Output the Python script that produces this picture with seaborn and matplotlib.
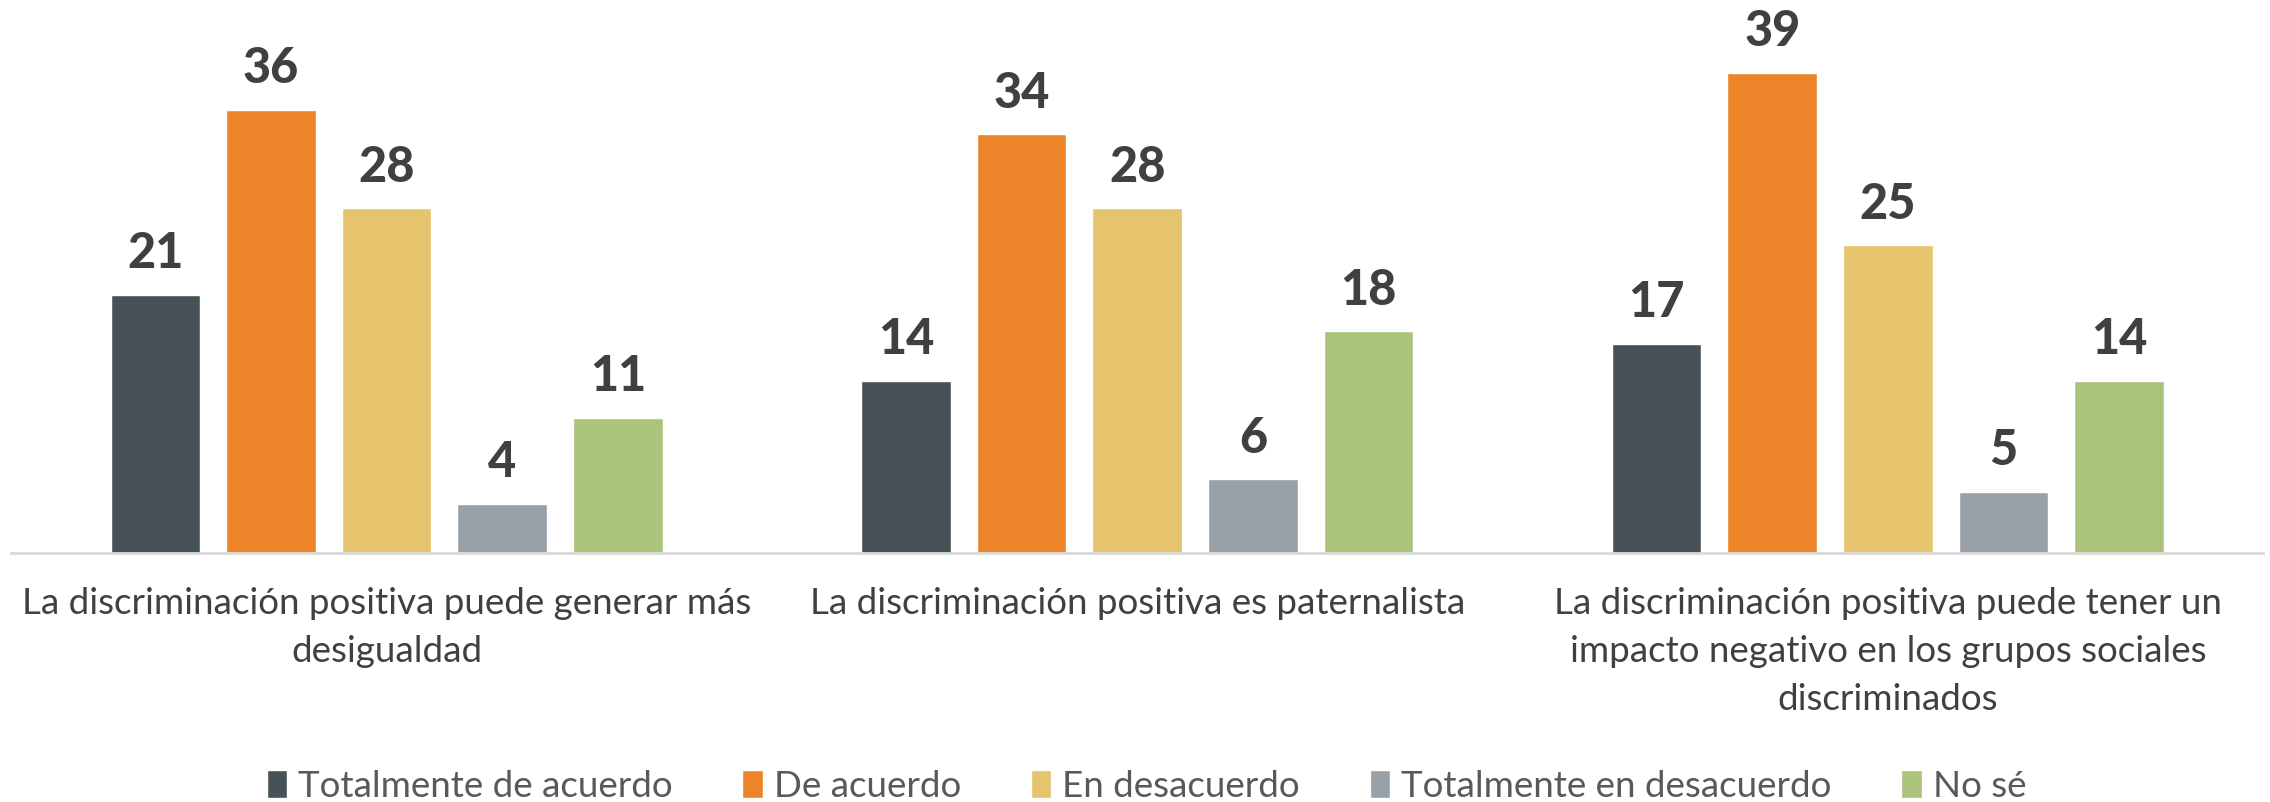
import matplotlib
matplotlib.use("Agg")
import matplotlib.pyplot as plt
import pandas as pd
import seaborn as sns

categories = [
    "La discriminación positiva puede generar más\ndesigualdad",
    "La discriminación positiva es paternalista",
    "La discriminación positiva puede tener un\nimpacto negativo en los grupos sociales\ndiscriminados",
]
responses = [
    "Totalmente de acuerdo",
    "De acuerdo",
    "En desacuerdo",
    "Totalmente en desacuerdo",
    "No sé",
]
totalmente_de_acuerdo = [21, 14, 17]
de_acuerdo = [36, 34, 39]
en_desacuerdo = [28, 28, 25]
totalmente_en_desacuerdo = [4, 6, 5]
no_se = [11, 18, 14]

colors = ["#475258", "#EC852A", "#E5C46D", "#98A0A8", "#AAC47C"]

series = [totalmente_de_acuerdo, de_acuerdo, en_desacuerdo, totalmente_en_desacuerdo, no_se]
df = pd.DataFrame(
    [
        {"categoria": cat, "respuesta": resp, "valor": vals[i]}
        for resp, vals in zip(responses, series)
        for i, cat in enumerate(categories)
    ]
)

sns.set_theme(style="white")
plt.rcParams["font.family"] = ["Lato", "DejaVu Sans"]

fig = plt.figure(figsize=(22.7, 8.03), dpi=100)
ax = fig.add_axes([0.005, 0.31, 0.992, 0.69])

sns.barplot(
    data=df,
    x="categoria",
    y="valor",
    hue="respuesta",
    hue_order=responses,
    order=categories,
    palette=colors,
    width=0.77,
    gap=0.225,
    saturation=1,
    ax=ax,
)

for container in ax.containers:
    ax.bar_label(container, padding=14, fontsize=35, fontweight="black", color="#404040")

ax.set_ylim(0, 45)
ax.set_xlim(-0.5, 2.5)
ax.set_xlabel("")
ax.set_ylabel("")
ax.set_yticks([])
ax.tick_params(axis="x", length=0, pad=24, labelsize=26.5, labelcolor="#404040")
for lbl in ax.get_xticklabels():
    lbl.set_linespacing(1.55)
for side in ["top", "left", "right"]:
    ax.spines[side].set_visible(False)
ax.spines["bottom"].set_color("#D9D9D9")
ax.spines["bottom"].set_linewidth(2)

handles, labels = ax.get_legend_handles_labels()
ax.legend_.remove()
fig.legend(
    handles,
    labels,
    loc="center",
    bbox_to_anchor=(0.505, 0.02),
    ncol=5,
    frameon=False,
    fontsize=26.5,
    labelcolor="#595959",
    handlelength=0.55,
    handleheight=0.8,
    handletextpad=0.3,
    columnspacing=1.9,
)

fig.savefig("out.png", dpi=100)
